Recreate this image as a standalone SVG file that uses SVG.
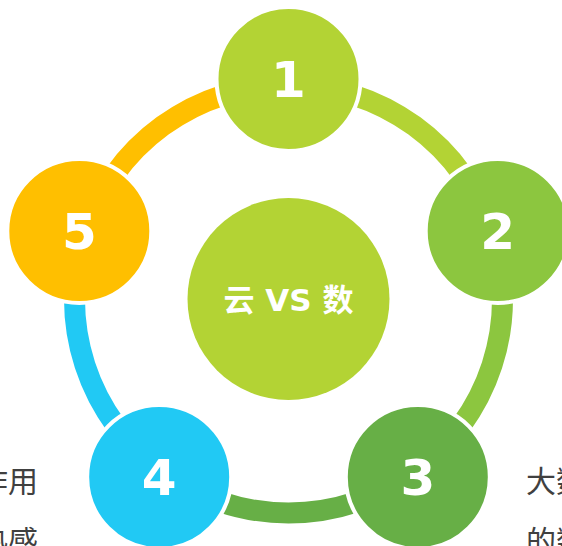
<svg xmlns="http://www.w3.org/2000/svg" width="562" height="546" viewBox="0 0 562 546">
  <style>
    .arc { fill: none; stroke-width: 21; }
    .node { stroke: #ffffff; stroke-width: 4; }
    .num { font-family: "DejaVu Sans", "Noto Sans CJK SC", sans-serif; font-weight: bold; font-size: 50px; fill: #ffffff; text-anchor: middle; }
    .center { font-family: "DejaVu Sans", "Noto Sans CJK SC", sans-serif; font-weight: bold; font-size: 31px; fill: #ffffff; text-anchor: middle; }
    .side { font-family: "Noto Sans CJK SC", "Noto Sans", sans-serif; font-size: 30px; fill: #404040; }
  </style>
  <rect width="562" height="546" fill="#ffffff"/>
  <g id="connectors">
    <path class="arc" stroke="#B3D334" d="M288.5,85 A214,214 0 0 1 492.03,232.87"/>
    <path class="arc" stroke="#8CC63F" d="M492.03,232.87 A214,214 0 0 1 414.29,472.13"/>
    <path class="arc" stroke="#67AF46" d="M414.29,472.13 A214,214 0 0 1 162.71,472.13"/>
    <path class="arc" stroke="#21C9F4" d="M162.71,472.13 A214,214 0 0 1 84.97,232.87"/>
    <path class="arc" stroke="#FFBF00" d="M84.97,232.87 A214,214 0 0 1 288.5,85"/>
  </g>
  <g id="center-node">
    <circle cx="288.5" cy="299" r="101" fill="#B3D334"/>
    <text class="center" x="288.5" y="310.5">云 VS 数</text>
  </g>
  <g id="node1">
    <circle class="node" cx="288.5" cy="79" r="72" fill="#B3D334"/>
    <text class="num" x="288.5" y="97">1</text>
  </g>
  <g id="node2">
    <circle class="node" cx="497.7" cy="231" r="72" fill="#8CC63F"/>
    <text class="num" x="497.7" y="249">2</text>
  </g>
  <g id="node3">
    <circle class="node" cx="417.8" cy="477" r="72" fill="#67AF46"/>
    <text class="num" x="417.8" y="495">3</text>
  </g>
  <g id="node4">
    <circle class="node" cx="159.2" cy="477" r="72" fill="#21C9F4"/>
    <text class="num" x="159.2" y="495">4</text>
  </g>
  <g id="node5">
    <circle class="node" cx="79.3" cy="231" r="72" fill="#FFBF00"/>
    <text class="num" x="79.3" y="249">5</text>
  </g>
  <g id="left-text">
    <text class="side" x="38" y="492" text-anchor="end">作用</text>
    <text class="side" x="38" y="552" text-anchor="end">热感</text>
  </g>
  <g id="right-text">
    <text class="side" x="526" y="492">大数</text>
    <text class="side" x="526" y="552">的数</text>
  </g>
</svg>
